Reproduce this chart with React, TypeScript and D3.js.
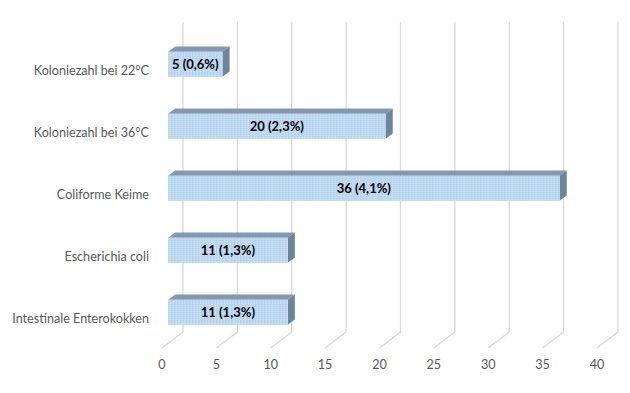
import * as d3 from "d3";

const categories = [
  "Koloniezahl bei 22°C",
  "Koloniezahl bei 36°C",
  "Coliforme Keime",
  "Escherichia coli",
  "Intestinale Enterokokken",
];
const counts = [5, 20, 36, 11, 11];
const percents = ["0,6", "2,3", "4,1", "1,3", "1,3"];
const ticks = [0, 5, 10, 15, 20, 25, 30, 35, 40];

const W = 630;
const H = 393;
// depth of the 3d floor, front -> back
const DX = 21;
const DY = -16;
const BAR_T0 = 0.29;
const BAR_T1 = 0.63;
const BAR_H = 25;

const App = () => {
  const x = d3.scaleLinear().domain([0, 40]).range([162, 597]);
  const y = d3
    .scaleBand<string>()
    .domain(categories)
    .range([38, 348])
    .paddingInner(0)
    .paddingOuter(0);

  const font = "Lato, 'Open Sans', sans-serif";

  return (
    <svg width={W} height={H} style={{ display: "block", position: "absolute", left: 0, top: 0 }}>
      <defs>
        <pattern id="dots" width="3" height="2" patternUnits="userSpaceOnUse">
          <rect width="3" height="2" fill="#bed8f0" />
          <rect x="0" y="0" width="1" height="1" fill="#b2cfeb" />
          <rect x="2" y="1" width="1" height="1" fill="#c8def3" />
        </pattern>
      </defs>
      <rect width={W} height={H} fill="#fff" />

      {/* gridlines: back wall + floor */}
      {ticks.map((t) => (
        <polyline
          key={t}
          points={`${x(t) + DX},${22} ${x(t) + DX},${348 + DY} ${x(t)},${348}`}
          fill="none"
          stroke="#d9d9d9"
          strokeWidth={1.3}
        />
      ))}

      {/* bars */}
      {categories.map((c, i) => {
        const cy = y(c)! + y.bandwidth() / 2;
        const x0 = x(0) + BAR_T0 * DX;
        const x1 = x(counts[i]) + BAR_T0 * DX;
        const y0 = cy + BAR_T0 * DY - BAR_H / 2;
        const y1 = y0 + BAR_H;
        const ddx = (BAR_T1 - BAR_T0) * DX;
        const ddy = (BAR_T1 - BAR_T0) * DY;
        return (
          <g key={c}>
            <polygon
              points={`${x0},${y0} ${x0 + ddx},${y0 + ddy} ${x1 + ddx},${y0 + ddy} ${x1},${y0}`}
              fill="#8497b0"
            />
            <polygon
              points={`${x1},${y0} ${x1 + ddx},${y0 + ddy} ${x1 + ddx},${y1 + ddy} ${x1},${y1}`}
              fill="#6f8399"
            />
            <rect x={x0} y={y0} width={x1 - x0} height={BAR_H} fill="url(#dots)" />
            <text
              x={(x0 + x1) / 2}
              y={(y0 + y1) / 2}
              dy="0.35em"
              textAnchor="middle"
              fontFamily={font}
              fontWeight="bold"
              fontSize={13}
              fill="#000"
            >
              {`${counts[i]} (${percents[i]}%)`}
            </text>
          </g>
        );
      })}

      {/* category labels */}
      {categories.map((c) => (
        <text
          key={c}
          x={149}
          y={y(c)! + y.bandwidth() / 2 + 2}
          dy="0.35em"
          textAnchor="end"
          fontFamily={font}
          fontSize={12.6}
          fill="#595959"
        >
          {c}
        </text>
      ))}

      {/* value axis labels */}
      {ticks.map((t) => (
        <text
          key={t}
          x={x(t)}
          y={365}
          dy="0.35em"
          textAnchor="middle"
          fontFamily={font}
          fontSize={12.6}
          fill="#595959"
        >
          {t}
        </text>
      ))}
    </svg>
  );
};

export default App;
